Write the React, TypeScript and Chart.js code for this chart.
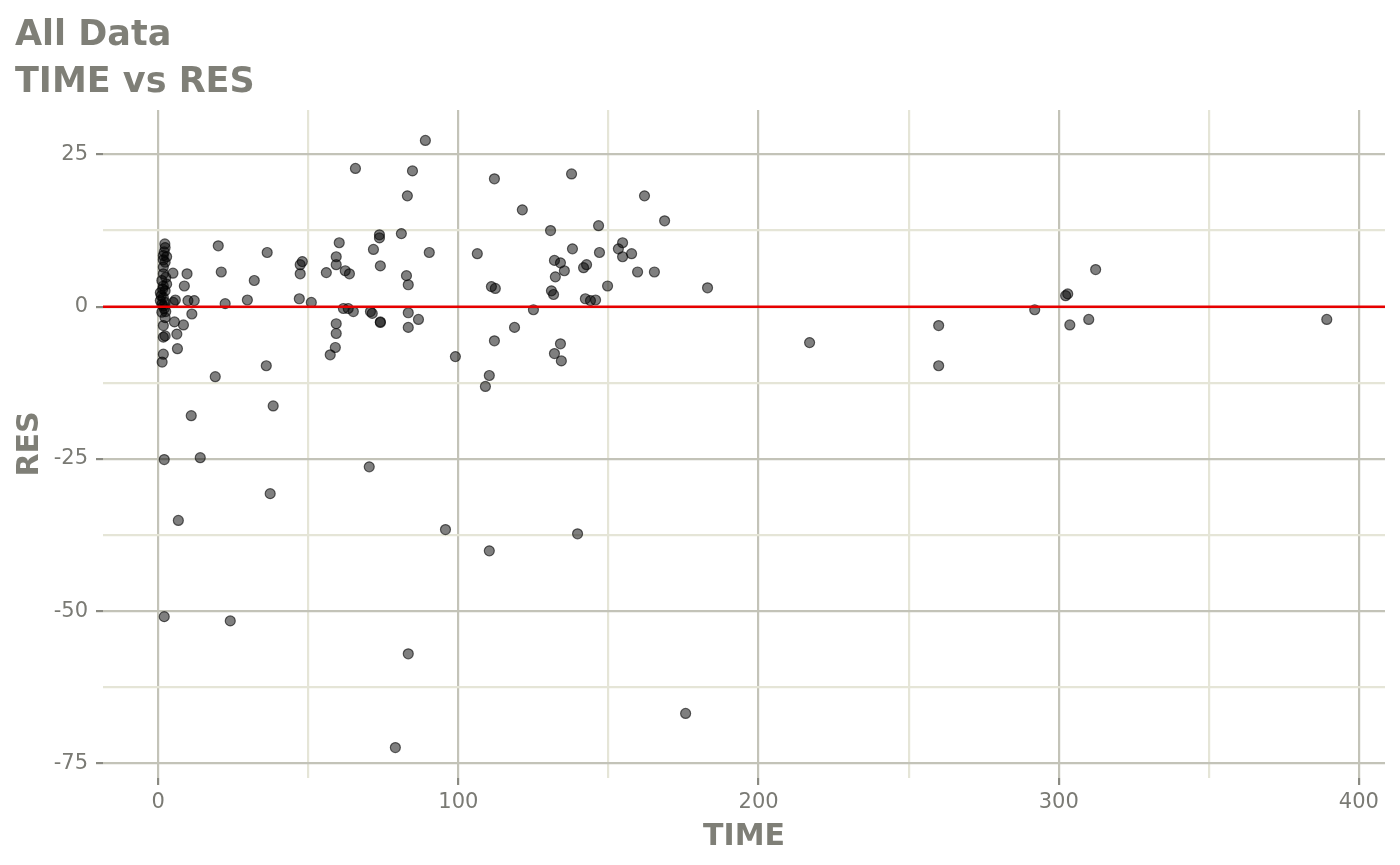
import { useEffect, useRef } from "react"
import { Chart, registerables } from "chart.js"

Chart.register(...registerables)

// valores (TIME no eixo x, RES no eixo y)
const TIME = [
  2.2, 2.3, 2.0, 2.8, 1.7, 2.3, 1.7, 1.7, 1.7, 1.2, 2.8, 1.7, 2.3, 0.7, 1.7, 0.7, 2.3, 1.2, 1.7, 2.0,
  1.2, 2.3, 1.7, 2.3, 1.7, 1.7, 1.3, 2.0, 2.0, 1.0, 2.5, 1.5, 2.5,
  4.9, 9.6, 8.7, 5.7, 9.9, 12.0, 5.0, 5.4, 8.4, 6.2, 6.4, 11.2, 11.0, 14.0, 6.7,
  20.0, 21.0, 22.3, 19.0, 24.0, 29.7, 32.0, 36.3, 36.0, 38.3, 37.3,
  47.3, 48.0, 47.3, 47.0, 51.0, 65.7, 56.0, 60.3, 59.3, 59.3, 62.3, 63.7, 61.7, 63.3, 65.0,
  59.3, 59.3, 59.0, 57.3, 71.7, 73.7, 73.7, 74.0, 70.7, 71.3, 74.0, 74.0, 70.3,
  81.0, 82.7, 83.3, 83.0, 84.7, 89.0, 90.3, 83.3, 86.7, 83.3, 83.3, 79.0, 95.7, 99.0,
  106.3, 109.0, 110.3, 110.3, 111.0, 112.3, 112.0, 112.0, 118.7, 121.3, 125.0,
  130.7, 132.0, 131.0, 131.7, 132.3, 134.0, 132.0, 134.0, 134.3, 135.3, 137.7, 138.0, 139.7,
  141.7, 142.7, 142.3, 144.0, 145.7, 146.7, 147.0, 149.7, 153.3, 154.7, 154.7, 157.7, 159.7,
  162.0, 165.3, 168.7, 175.7, 183.0, 217.0, 260.0, 260.0, 292.0, 302.3, 303.0, 303.7, 310.0,
  312.3, 389.3,
]

const RES = [
  10.3, 9.7, 9.0, 8.2, 8.4, 7.3, 7.7, 6.5, 5.4, 4.3, 3.7, 3.4, 2.6, 2.3, 1.5, 1.0, 0.7, 0.4, 0.1, -0.3,
  -0.9, -1.8, -3.1, -4.8, -5.0, -7.8, -9.1, -25.1, -50.9, 1.8, -0.8, 2.9, 4.8,
  5.5, 5.4, 3.4, 1.1, 1.0, 1.0, 0.7, -2.5, -3.0, -4.5, -6.9, -1.2, -17.9, -24.8, -35.1,
  10.0, 5.7, 0.5, -11.5, -51.6, 1.1, 4.3, 8.9, -9.7, -16.3, -30.7,
  6.9, 7.4, 5.4, 1.3, 0.7, 22.7, 5.6, 10.5, 8.2, 6.9, 5.9, 5.4, -0.3, -0.3, -0.8,
  -2.8, -4.4, -6.7, -7.9, 9.4, 11.8, 11.3, 6.7, -0.8, -1.1, -2.5, -2.6, -26.3,
  12.0, 5.1, 3.6, 18.2, 22.3, 27.3, 8.9, -1.0, -2.1, -3.4, -57.0, -72.4, -36.6, -8.2,
  8.7, -13.1, -11.3, -40.1, 3.3, 3.0, 21.0, -5.6, -3.4, 15.9, -0.5,
  12.5, 7.6, 2.6, 2.0, 4.9, 7.2, -7.7, -6.1, -8.9, 5.9, 21.8, 9.5, -37.3,
  6.4, 6.9, 1.3, 1.0, 1.1, 13.3, 8.9, 3.4, 9.5, 10.5, 8.2, 8.7, 5.7,
  18.2, 5.7, 14.1, -66.8, 3.1, -5.9, -3.1, -9.7, -0.5, 1.8, 2.1, -3.0, -2.1,
  6.1, -2.1,
]

const X_MAJOR = [0, 100, 200, 300, 400]
const Y_MAJOR = [-75, -50, -25, 0, 25]
const REF_LINE = 0

const TITLE_LINES = ["All Data", "TIME vs RES"]
const FONT = "'DejaVu Sans', sans-serif"
const TITLE_COLOR = "#7f7f77"
const TICK_COLOR = "#7a7a74"
const GRID_MAJOR = "#c3c3b8"
const GRID_MINOR = "#e5e5d7"

const overlay = {
  id: "overlay",
  afterDatasetsDraw(chart: Chart) {
    const { ctx, chartArea, scales } = chart
    const y = scales.y.getPixelForValue(REF_LINE)
    ctx.save()
    ctx.strokeStyle = "#e60000"
    ctx.lineWidth = 2.5
    ctx.beginPath()
    ctx.moveTo(chartArea.left, y)
    ctx.lineTo(chartArea.right, y)
    ctx.stroke()
    ctx.restore()
  },
  afterDraw(chart: Chart) {
    const { ctx } = chart
    ctx.save()
    ctx.fillStyle = TITLE_COLOR
    ctx.font = `bold 35px ${FONT}`
    ctx.textBaseline = "alphabetic"
    ctx.textAlign = "left"
    ctx.fillText(TITLE_LINES[0], 15, 45)
    ctx.fillText(TITLE_LINES[1], 15, 92)
    ctx.restore()
  },
}

export default function App() {
  const chartRef = useRef<HTMLCanvasElement>(null)
  const chartInstance = useRef<Chart | null>(null)

  useEffect(() => {
    if (!chartRef.current) return
    if (chartInstance.current) chartInstance.current.destroy()
    const ctx = chartRef.current.getContext("2d")
    if (!ctx) return

    chartInstance.current = new Chart(ctx, {
      type: "scatter",
      data: {
        datasets: [
          {
            data: TIME.map((t, i) => ({ x: t, y: RES[i] })),
            backgroundColor: "rgba(0, 0, 0, 0.5)",
            borderColor: "rgba(0, 0, 0, 0.6)",
            borderWidth: 1.2,
            pointRadius: 5,
          },
        ],
      },
      options: {
        responsive: false,
        animation: false,
        layout: { padding: { top: 110, right: 15, left: 0, bottom: 0 } },
        plugins: {
          legend: { display: false },
          tooltip: { enabled: false },
        },
        scales: {
          x: {
            type: "linear",
            min: -18.4,
            max: 408.7,
            afterFit: (scale: any) => {
              scale.height = 87
            },
            border: { display: false },
            grid: {
              color: (c: any) => (X_MAJOR.includes(c.tick?.value) ? GRID_MAJOR : GRID_MINOR),
              tickColor: (c: any) => (X_MAJOR.includes(c.tick?.value) ? "#8a8a82" : "rgba(0,0,0,0)"),
              lineWidth: 2.2,
              tickWidth: 2.2,
              tickLength: 7,
            },
            ticks: {
              stepSize: 50,
              includeBounds: false,
              padding: 5,
              color: TICK_COLOR,
              font: { family: FONT, size: 21 },
              maxRotation: 0,
              autoSkip: false,
              callback: (v: any) => (X_MAJOR.includes(v) ? String(v) : ""),
            },
            title: {
              display: true,
              text: "TIME",
              color: TITLE_COLOR,
              font: { family: FONT, size: 30, weight: "bold" },
              padding: { top: 0, bottom: 10 },
            },
          },
          y: {
            type: "linear",
            min: -77.4,
            max: 32.3,
            afterFit: (scale: any) => {
              scale.width = 103
            },
            border: { display: false },
            grid: {
              color: (c: any) => (Y_MAJOR.includes(c.tick?.value) ? GRID_MAJOR : GRID_MINOR),
              tickColor: (c: any) => (Y_MAJOR.includes(c.tick?.value) ? "#8a8a82" : "rgba(0,0,0,0)"),
              lineWidth: 2.2,
              tickWidth: 2.2,
              tickLength: 7,
            },
            ticks: {
              stepSize: 12.5,
              includeBounds: false,
              padding: 8,
              color: TICK_COLOR,
              font: { family: FONT, size: 21 },
              autoSkip: false,
              callback: (v: any) => (Y_MAJOR.includes(v) ? String(v) : ""),
            },
            title: {
              display: true,
              text: "RES",
              color: TITLE_COLOR,
              font: { family: FONT, size: 30, weight: "bold" },
              padding: { top: 12, bottom: 0 },
            },
          },
        },
      },
      plugins: [overlay],
    })

    return () => {
      if (chartInstance.current) {
        chartInstance.current.destroy()
        chartInstance.current = null
      }
    }
  }, [])

  return (
    <div style={{ position: "fixed", left: 0, top: 0, width: 1400, height: 865, background: "#fff" }}>
      <canvas ref={chartRef} width={1400} height={865} />
    </div>
  )
}
